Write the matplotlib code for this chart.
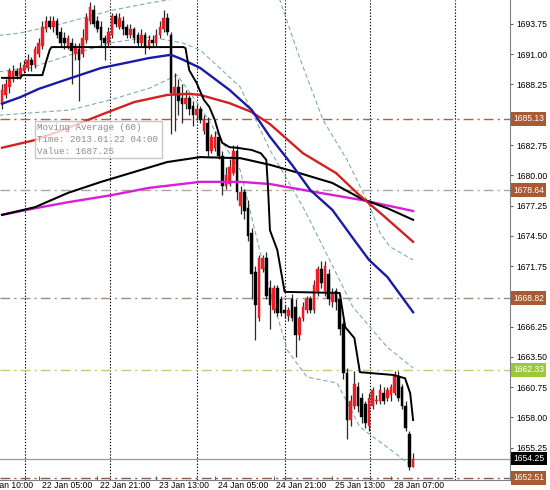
import matplotlib
matplotlib.use("Agg")
import matplotlib.pyplot as plt
from matplotlib.patches import Rectangle

# ---- hourly candles, 21 Jan 2013 10:00 ... 28 Jan 2013 ----
opens = [1686.50, 1687.25, 1688.00, 1688.75, 1689.50, 1689.00, 1689.50, 1689.75, 1690.50, 1690.00,
         1691.00, 1691.75, 1693.25, 1694.00, 1693.50, 1694.00, 1693.00, 1692.50, 1691.75, 1692.00,
         1691.00, 1691.50, 1691.00, 1692.25, 1694.00, 1695.00, 1694.00, 1693.50, 1692.50, 1692.00,
         1692.75, 1694.50, 1693.50, 1694.00, 1693.50, 1692.75, 1693.25, 1692.75, 1692.00, 1692.75,
         1691.75, 1692.25, 1692.00, 1692.75, 1693.25, 1694.25, 1692.75, 1687.25, 1688.00, 1687.00,
         1686.50, 1687.00, 1686.25, 1685.50, 1686.00, 1684.00, 1684.75, 1682.25, 1682.50, 1683.50,
         1681.75, 1679.00, 1679.25, 1680.25, 1682.25, 1677.25, 1678.50, 1677.00, 1674.75, 1671.25,
         1667.00, 1671.50, 1672.50, 1669.75, 1667.75, 1669.75, 1668.75, 1667.75, 1667.25, 1668.75,
         1668.00, 1665.50, 1667.00, 1667.75, 1668.75, 1667.75, 1669.50, 1671.50, 1669.50, 1671.00,
         1668.50, 1669.50, 1668.75, 1666.50, 1662.00, 1657.75, 1659.00, 1660.75, 1659.75, 1659.25,
         1657.25, 1659.00, 1659.50, 1659.50, 1660.25, 1659.75, 1660.00, 1660.25, 1661.75, 1660.75,
         1659.00, 1656.50, 1653.50]
highs = [1688.25, 1688.75, 1689.75, 1690.00, 1689.75, 1690.25, 1690.50, 1691.00, 1690.75, 1691.75,
         1692.50, 1694.00, 1694.50, 1694.50, 1694.50, 1694.25, 1693.50, 1693.00, 1692.75, 1692.50,
         1692.00, 1692.00, 1693.25, 1694.75, 1695.75, 1695.50, 1694.50, 1694.00, 1692.75, 1693.50,
         1694.75, 1694.75, 1694.75, 1694.50, 1693.75, 1693.75, 1693.50, 1693.00, 1693.25, 1693.00,
         1692.75, 1692.75, 1693.25, 1694.00, 1695.00, 1694.75, 1693.00, 1689.25, 1688.75, 1688.25,
         1687.75, 1687.25, 1686.75, 1686.50, 1686.25, 1685.50, 1685.25, 1683.75, 1684.00, 1683.75,
         1682.25, 1680.75, 1681.50, 1682.75, 1682.75, 1679.00, 1678.75, 1677.75, 1675.25, 1671.75,
         1672.75, 1672.75, 1673.00, 1670.50, 1670.00, 1670.00, 1669.00, 1668.25, 1668.00, 1669.25,
         1668.75, 1667.25, 1668.50, 1669.00, 1669.00, 1670.50, 1671.75, 1672.25, 1672.25, 1671.50,
         1669.75, 1669.75, 1669.25, 1666.75, 1662.50, 1660.00, 1662.25, 1661.25, 1660.25, 1659.50,
         1660.25, 1660.75, 1660.00, 1661.00, 1660.75, 1660.75, 1661.00, 1662.25, 1662.25, 1661.00,
         1659.50, 1656.75, 1654.75]
lows = [1686.00, 1687.00, 1687.50, 1688.50, 1688.75, 1688.75, 1689.25, 1689.50, 1689.50, 1689.75,
        1690.75, 1691.50, 1693.00, 1693.25, 1693.00, 1692.50, 1691.75, 1691.50, 1691.50, 1688.25,
        1690.50, 1686.75, 1690.75, 1692.00, 1693.75, 1693.50, 1693.00, 1691.75, 1690.50, 1691.75,
        1692.50, 1693.50, 1693.25, 1692.75, 1692.50, 1692.50, 1692.00, 1691.75, 1691.75, 1691.00,
        1691.50, 1691.75, 1691.75, 1692.50, 1693.00, 1692.75, 1683.75, 1684.00, 1685.50, 1684.75,
        1686.00, 1685.50, 1684.50, 1685.00, 1684.75, 1683.75, 1681.75, 1682.00, 1682.25, 1681.50,
        1678.25, 1678.75, 1679.00, 1680.00, 1677.75, 1676.50, 1676.00, 1674.00, 1668.75, 1665.00,
        1666.75, 1671.25, 1668.75, 1666.00, 1667.50, 1667.25, 1667.25, 1667.00, 1666.75, 1666.75,
        1663.50, 1665.00, 1666.75, 1667.50, 1667.50, 1667.50, 1669.00, 1669.75, 1669.00, 1668.25,
        1668.00, 1667.75, 1665.50, 1661.50, 1656.00, 1657.25, 1658.75, 1658.50, 1657.50, 1657.00,
        1656.75, 1658.75, 1659.25, 1659.25, 1659.25, 1659.50, 1659.50, 1660.00, 1659.50, 1658.75,
        1656.75, 1653.25, 1653.50]
closes = [1687.75, 1688.25, 1689.50, 1689.50, 1689.00, 1689.75, 1690.00, 1690.50, 1690.00, 1691.50,
          1692.00, 1693.50, 1694.00, 1693.50, 1694.00, 1692.75, 1692.00, 1692.00, 1692.50, 1691.25,
          1691.75, 1690.50, 1692.50, 1694.25, 1695.25, 1693.75, 1693.25, 1692.25, 1692.00, 1693.00,
          1694.50, 1693.75, 1694.25, 1693.25, 1692.75, 1693.25, 1692.50, 1692.00, 1692.75, 1691.75,
          1692.25, 1692.00, 1692.75, 1693.50, 1694.25, 1693.00, 1687.50, 1688.00, 1686.75, 1686.50,
          1687.00, 1686.00, 1685.50, 1686.00, 1685.00, 1685.00, 1682.25, 1683.50, 1683.50, 1681.75,
          1679.00, 1680.00, 1680.75, 1682.25, 1678.50, 1678.50, 1676.75, 1674.50, 1671.00, 1668.25,
          1672.50, 1672.50, 1669.00, 1668.25, 1669.75, 1667.50, 1667.50, 1667.50, 1667.75, 1667.00,
          1665.50, 1667.00, 1668.00, 1668.75, 1667.75, 1670.00, 1671.50, 1670.25, 1671.75, 1668.75,
          1669.25, 1668.50, 1666.00, 1662.00, 1657.75, 1659.50, 1661.00, 1659.00, 1658.00, 1657.50,
          1659.75, 1660.50, 1659.50, 1660.50, 1659.50, 1660.50, 1660.75, 1661.75, 1659.75, 1659.00,
          1657.00, 1653.50, 1654.25]

# ---- indicator lines (bar index, value) ----
ma60_bars = [0, 5, 10, 18, 27, 35, 40, 46, 49, 54, 62, 68, 73, 79, 84, 90, 96, 100, 105, 112]
ma60_vals = [1686.50, 1687.10, 1687.85, 1688.75, 1689.75, 1690.30, 1690.65, 1690.95, 1690.55, 1689.75,
             1687.75, 1685.95, 1683.50, 1680.95, 1678.65, 1676.85, 1674.10, 1672.30, 1670.75, 1667.55]
red_bars = [0, 9, 18, 27, 36, 45, 51, 54, 62, 68, 73, 82, 91, 97, 104, 112]
red_vals = [1682.50, 1683.20, 1684.30, 1685.50, 1686.65, 1687.30, 1687.40, 1687.30, 1686.55, 1685.75,
            1684.65, 1682.00, 1680.20, 1678.30, 1676.30, 1673.95]
blk_bars = [0, 9, 18, 27, 36, 45, 54, 65, 73, 81, 90, 98, 105, 112]
blk_vals = [1676.40, 1677.10, 1678.40, 1679.40, 1680.30, 1681.20, 1681.65, 1681.55, 1680.95, 1680.20,
            1679.30, 1677.85, 1677.00, 1675.95]
mag_bars = [0, 9, 18, 30, 40, 54, 65, 73, 84, 98, 112]
mag_vals = [1676.40, 1677.00, 1677.55, 1678.20, 1678.85, 1679.40, 1679.40, 1679.20, 1678.55, 1677.75, 1676.75]
step_bars = [0, 5, 5.5, 11, 12, 13, 13.5, 49.5, 50, 51, 53, 55, 56.5, 58, 59, 60, 62, 64, 68, 70.5,
             72, 72.5, 73, 74, 75, 77, 92, 93.5, 96, 97.5, 106.5, 109.8, 111.2, 112]
step_vals = [1688.85, 1688.85, 1689.10, 1689.10, 1690.30, 1691.40, 1691.65, 1691.65, 1691.55, 1689.55,
             1688.40, 1686.85, 1686.20, 1685.00, 1683.85, 1682.95, 1682.55, 1682.50, 1682.30, 1682.00,
             1681.40, 1678.65, 1675.00, 1674.10, 1673.20, 1669.40, 1669.30, 1666.20, 1665.20, 1662.10,
             1661.85, 1661.55, 1660.20, 1657.75]
band1_bars = [-1, 5, 16, 30, 40, 50, 62, 72, 75.7, 81, 87.5, 94, 100.3, 103, 105.7, 112]
band1_vals = [1692.70, 1692.93, 1693.75, 1695.00, 1695.65, 1696.20, 1697.70, 1697.00, 1695.93, 1690.75,
              1685.00, 1681.40, 1677.10, 1674.75, 1673.50, 1672.30]
band2_bars = [-1, 7.6, 18.5, 29.4, 40.3, 49.3, 54, 64.9, 73, 82, 87.5, 95.6, 104.9, 112]
band2_vals = [1689.40, 1689.75, 1690.93, 1692.02, 1692.57, 1692.02, 1691.38, 1688.02, 1682.30, 1677.11,
              1673.48, 1668.02, 1664.39, 1662.48]
band3_bars = [-1, 18.5, 29.4, 40.3, 47.7, 54, 60.2, 64.9, 68.4, 72.2, 77.7, 83.1, 91.3, 97.5, 104.9, 112]
band3_vals = [1685.45, 1685.93, 1686.84, 1687.93, 1689.11, 1686.20, 1682.93, 1680.48, 1675.66, 1670.48,
              1664.11, 1661.66, 1661.11, 1657.11, 1655.30, 1653.48]

# ---- horizontal levels ----
levels = [1685.13, 1678.64, 1668.82, 1662.33, 1652.51]
level_colors = ['#9A6A50', '#B4A496', '#A88A76', '#C8C878', '#8E5E44']
label_colors = ['#A85A32', '#A85A32', '#A85A32', '#9CC83C', '#A85A32']
bid = 1654.25

time_bars = [-6, 10, 26, 42, 58, 74, 90, 106]
time_labels = ['21 Jan 10:00', '22 Jan 05:00', '22 Jan 21:00', '23 Jan 13:00',
               '24 Jan 05:00', '24 Jan 21:00', '25 Jan 13:00', '28 Jan 07:00']
grid_bars = [6.3, 29.5, 53.1, 77.1, 100.3, 123.4]
# 1669.00 and 1685.50 sit under the level labels, so they are left out
price_ticks = [1655.25, 1658.00, 1660.75, 1663.50, 1666.25, 1671.75, 1674.50,
               1677.25, 1680.00, 1682.75, 1688.25, 1691.00, 1693.75]

plt.rcParams['font.family'] = ['Liberation Sans', 'DejaVu Sans']

fig = plt.figure(figsize=(5.5, 4.9), dpi=100)
ax = fig.add_axes([0, 10 / 490, 510 / 550, 480 / 490])
ax.set_xlim(-0.55, 138.4)
ax.set_ylim(1652.30, 1695.93)

for g in grid_bars:
    ax.axvline(g, color='black', ls=(0, (1.2, 1.6)), lw=0.8, zorder=0.5)

for lv, c in zip(levels, level_colors):
    ax.axhline(lv, color=c, ls=(0, (7, 3, 1.5, 3)), lw=1.0, zorder=1)
ax.axhline(bid, color='#9A9A9A', lw=0.9, zorder=1)

# dashed bands
for bx, bv in [(band1_bars, band1_vals), (band2_bars, band2_vals), (band3_bars, band3_vals)]:
    ax.plot(bx, bv, color='#7FB0A4', lw=0.8, ls=(0, (4, 2.5)), zorder=2)

# candles
n = len(opens)
for i in range(n):
    up = closes[i] >= opens[i]
    col = '#EE1C24' if up else 'black'
    ax.vlines(i, lows[i], highs[i], color='#2A2A2A', lw=0.9, zorder=3)
    lo = min(opens[i], closes[i])
    h = abs(closes[i] - opens[i])
    ax.bar(i, max(h, 0.06), bottom=lo, width=0.72, color=col, edgecolor=col, lw=0.3, zorder=3.1)

# moving averages
ax.plot(mag_bars, mag_vals, color='#D81FD8', lw=1.7, zorder=4)
ax.plot(blk_bars, blk_vals, color='black', lw=1.5, zorder=4)
ax.plot(red_bars, red_vals, color='#D42020', lw=1.7, zorder=4)
ax.plot(ma60_bars, ma60_vals, color='#1A1AA8', lw=1.7, zorder=4)
ax.plot(step_bars, step_vals, color='black', lw=1.4, zorder=4)

# axes styling
for s in ['left', 'top']:
    ax.spines[s].set_visible(False)
ax.spines['right'].set_color('#808080')
ax.spines['bottom'].set_color('#808080')
ax.yaxis.tick_right()
ax.set_yticks(price_ticks)
ax.set_yticklabels(['%.2f' % p for p in price_ticks])
ax.tick_params(axis='y', length=2.5, width=0.8, color='#606060', labelsize=6.2, pad=2)
ax.set_xticks([b for b in time_bars if b >= 0])
ax.set_xticklabels([])
ax.tick_params(axis='x', length=3, width=0.8, color='#606060', direction='in')
for b, lab in zip(time_bars, time_labels):
    ax.annotate(lab, xy=(b, 0), xycoords=('data', 'axes fraction'), xytext=(2, -1),
                textcoords='offset points', ha='left', va='top', fontsize=6.2,
                annotation_clip=False)

# price labels on right scale
trans = ax.get_yaxis_transform()
for lv, c in zip(levels, label_colors):
    ax.text(1.006, lv, '%.2f' % lv, transform=trans, ha='left', va='center', fontsize=6.2,
            color='white', clip_on=False, zorder=10,
            bbox=dict(boxstyle='square,pad=0.28', fc=c, ec='none'))
ax.text(1.006, bid, '%.2f' % bid, transform=trans, ha='left', va='center', fontsize=6.2,
        color='white', clip_on=False, zorder=10,
        bbox=dict(boxstyle='square,pad=0.28', fc='black', ec='none'))

# tooltip of MA(60)
ax.add_patch(Rectangle((35 / 510, 1 - 158 / 480), 127 / 510, 37 / 480, transform=ax.transAxes,
                       fc='white', ec='#B8B8B8', lw=1.0, alpha=0.78, zorder=8))
tip = ['Moving Average (60)', 'Time: 2013.01.22 04:00', 'Value: 1687.25']
for k, t in enumerate(tip):
    ax.text(37 / 510, 1 - (127 + 12 * k) / 480, t, transform=ax.transAxes, ha='left', va='center',
            fontsize=6.6, family='Liberation Mono', color='#8C8C8C', zorder=9)

fig.savefig('out.png', dpi=100)
